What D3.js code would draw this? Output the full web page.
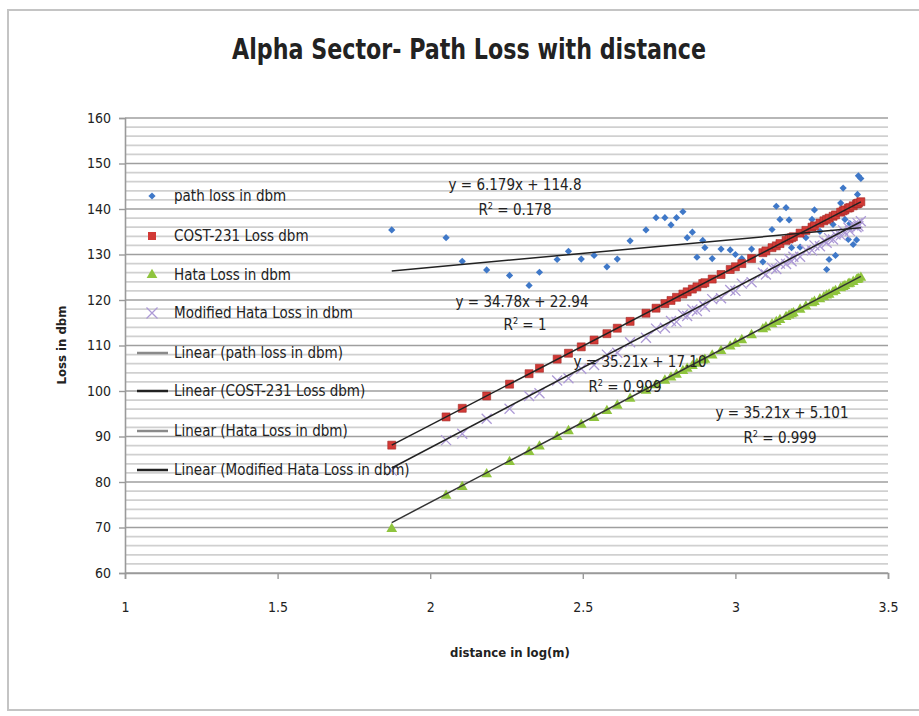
<!DOCTYPE html>
<html><head><meta charset="utf-8">
<script src="https://cdn.jsdelivr.net/npm/d3@7"></script>
<style>
html,body{margin:0;padding:0;background:#fff;}
svg{display:block;}
text{font-family:"DejaVu Sans Condensed","DejaVu Sans",sans-serif;fill:#222;}
</style></head>
<body><svg id="chart" width="919" height="716"></svg>
<script>
// ---------------- DATA ----------------
const distanceLog = [1.874,2.052,2.105,2.185,2.260,2.324,2.358,2.416,2.453,2.495,2.537,2.579,2.613,2.655,2.707,2.740,2.769,2.789,2.807,2.828,2.842,2.859,2.874,2.893,2.900,2.924,2.953,2.983,3.000,3.021,3.053,3.090,3.100,3.120,3.134,3.146,3.166,3.176,3.184,3.190,3.212,3.231,3.251,3.259,3.277,3.290,3.299,3.307,3.320,3.328,3.345,3.353,3.359,3.370,3.375,3.386,3.397,3.400,3.403,3.411];
const pathLoss = [135.4,133.7,128.5,126.6,125.4,123.2,126.1,128.9,130.7,129.0,129.8,127.3,129.0,133.0,135.4,138.1,138.1,136.5,138.1,139.4,133.7,134.9,129.4,133.1,131.5,129.1,131.2,131.0,130.0,129.1,131.2,128.4,130.8,135.5,140.6,137.7,140.3,137.6,131.5,133.9,131.6,133.7,137.7,139.8,135.1,137.4,126.7,128.9,136.6,129.8,141.3,144.6,137.7,133.3,136.8,132.2,133.2,143.2,147.3,146.7];
const cost231Loss = [88.1,94.3,96.2,98.9,101.5,103.8,105.0,107.0,108.3,109.7,111.2,112.6,113.8,115.3,117.1,118.2,119.2,119.9,120.6,121.3,121.8,122.4,122.9,123.6,123.8,124.6,125.6,126.7,127.3,128.0,129.1,130.4,130.8,131.5,131.9,132.4,133.1,133.4,133.7,133.9,134.7,135.3,136.0,136.3,136.9,137.4,137.7,138.0,138.4,138.7,139.3,139.6,139.8,140.2,140.3,140.7,141.1,141.2,141.3,141.6];
const hataLoss = [69.7,77.0,78.9,81.7,84.4,86.6,87.8,89.9,91.2,92.6,94.1,95.6,96.8,98.3,100.1,101.3,102.3,103.0,103.6,104.4,104.9,105.5,106.0,106.7,106.9,107.8,108.8,109.8,110.4,111.2,112.3,113.6,114.0,114.7,115.2,115.6,116.3,116.6,116.9,117.1,117.9,118.6,119.3,119.6,120.2,120.6,121.0,121.2,121.7,122.0,122.6,122.9,123.1,123.5,123.6,124.0,124.4,124.5,124.6,124.9];
const modHataLoss = [82.5,89.2,90.6,93.9,96.1,98.9,99.5,102.3,102.8,104.9,105.7,108.0,108.4,110.7,111.7,113.7,113.9,115.4,115.2,116.8,116.5,117.9,117.6,119.1,118.5,120.2,120.4,122.2,122.0,123.6,123.9,126.0,125.6,127.1,126.8,128.0,127.9,129.0,128.5,129.5,129.5,131.0,130.9,132.0,131.8,133.0,132.6,133.6,133.3,134.4,134.2,135.3,134.7,135.9,135.2,136.4,136.0,136.9,136.2,137.3];

const seriesNames = ["path loss in dbm","COST-231 Loss dbm","Hata Loss in dbm","Modified Hata  Loss in dbm"];
const trendNames = ["Linear (path loss in dbm)","Linear (COST-231 Loss dbm)","Linear (Hata Loss in dbm)","Linear (Modified Hata Loss in dbm)"];
const trendSlopes = [6.179,34.78,35.21,35.21];
const trendIntercepts = [114.8,22.94,5.101,17.10];
const trendEquations = ["y = 6.179x + 114.8","y = 34.78x + 22.94","y = 35.21x + 5.101","y = 35.21x + 17.10"];
const trendR2 = ["0.178","1","0.999","0.999"];
const xTicks = [1,1.5,2,2.5,3,3.5];
const yTicks = [60,70,80,90,100,110,120,130,140,150,160];

// ---------------- LAYOUT ----------------
const svg = d3.select("#chart");
const L = 125, R = 888, T = 118, B = 573;
const x = d3.scaleLinear().domain([1,3.5]).range([L,R]);
const y = d3.scaleLinear().domain([60,160]).range([B,T]);
const FONT = '"DejaVu Sans Condensed","DejaVu Sans",sans-serif';

svg.append("rect").attr("x",8).attr("y",10).attr("width",925).attr("height",700)
  .attr("fill","#fff").attr("stroke","#c4c4c4").attr("stroke-width",2);

const minor = d3.range(62,160,2).filter(v=>v%10!==0);
svg.append("g").selectAll("line").data(minor).join("line")
  .attr("x1",L).attr("x2",R).attr("y1",d=>y(d)).attr("y2",d=>y(d))
  .attr("stroke","#d0d0d0").attr("stroke-width",1.7);
svg.append("g").selectAll("line").data(yTicks).join("line")
  .attr("x1",L).attr("x2",R).attr("y1",d=>y(d)).attr("y2",d=>y(d))
  .attr("stroke","#9f9f9f").attr("stroke-width",1.7);

const yAxis = svg.append("g").attr("transform",`translate(${L},0)`)
  .call(d3.axisLeft(y).tickValues(yTicks).tickSize(6).tickPadding(8));
yAxis.select(".domain").attr("stroke","#9a9a9a").attr("stroke-width",1.6);
yAxis.selectAll(".tick line").attr("stroke","#9a9a9a").attr("stroke-width",1.4);
yAxis.selectAll("text").style("font-size","14px").style("font-family",FONT).attr("fill","#333");

const xAxis = svg.append("g").attr("transform",`translate(0,${B})`)
  .call(d3.axisBottom(x).tickValues(xTicks).tickFormat(d3.format("")).tickSize(6).tickPadding(23));
xAxis.select(".domain").attr("stroke","#9a9a9a").attr("stroke-width",1.6);
xAxis.selectAll(".tick line").attr("stroke","#9a9a9a").attr("stroke-width",1.4);
xAxis.selectAll("text").style("font-size","14px").style("font-family",FONT).attr("fill","#333");

svg.append("text").attr("x",469).attr("y",59).attr("text-anchor","middle")
  .attr("textLength",474).attr("lengthAdjust","spacingAndGlyphs")
  .style("font-size","28px").style("font-weight","bold").text("Alpha Sector- Path Loss with distance");
svg.append("text").attr("transform","translate(66,345) rotate(-90)").attr("text-anchor","middle")
  .style("font-size","13px").style("font-weight","bold").text("Loss in dbm");
svg.append("text").attr("x",510).attr("y",657).attr("text-anchor","middle")
  .style("font-size","13px").style("font-weight","bold").text("distance in log(m)");

const pts = distanceLog.map((d,i)=>({d,p:pathLoss[i],c:cost231Loss[i],h:hataLoss[i],m:modHataLoss[i]}));
const diamondPath = "M0,-3.6L3.6,0L0,3.6L-3.6,0Z";
const square = d3.symbol().type(d3.symbolSquare).size(64);
const tri = d3.symbol().type(d3.symbolTriangle).size(50);
function xPath(s){return `M${-s},${-s}L${s},${s}M${-s},${s}L${s},${-s}`;}

svg.append("g").selectAll("path").data(pts).join("path")
  .attr("transform",d=>`translate(${x(d.d)},${y(d.p)})`).attr("d",diamondPath).attr("fill","#3f78c8");
svg.append("g").selectAll("path").data(pts).join("path")
  .attr("transform",d=>`translate(${x(d.d)},${y(d.c)})`).attr("d",square).attr("fill","#d23a36").attr("stroke","#a52a27").attr("stroke-width",0.6);
svg.append("g").selectAll("path").data(pts).join("path")
  .attr("transform",d=>`translate(${x(d.d)},${y(d.h)})`).attr("d",tri).attr("fill","#8fc43e");
svg.append("g").selectAll("path").data(pts).join("path")
  .attr("transform",d=>`translate(${x(d.d)},${y(d.m)})`).attr("d",xPath(5)).attr("fill","none").attr("stroke","#ad9ad6").attr("stroke-width",1.3);

const xExt = d3.extent(distanceLog);
const trendColors = ["#222","#222","#333","#222"];
trendSlopes.forEach((s,i)=>{
  const line = d3.line().x(d=>x(d)).y(d=>y(s*d+trendIntercepts[i]));
  svg.append("path").datum(xExt).attr("d",line).attr("fill","none")
    .attr("stroke",trendColors[i]).attr("stroke-width",1.5);
});

const labelPos = [[515,190,515,215],[522,307,525,330],[782,418,780,443],[640,367,625,392]];
trendEquations.forEach((eq,i)=>{
  const [ex,ey,rx,ry] = labelPos[i];
  svg.append("text").attr("x",ex).attr("y",ey).attr("text-anchor","middle").style("font-size","15px").text(eq);
  const t = svg.append("text").attr("x",rx).attr("y",ry).attr("text-anchor","middle").style("font-size","15px");
  t.append("tspan").text("R");
  t.append("tspan").attr("dy",-6).style("font-size","9px").text("2");
  t.append("tspan").attr("dy",6).text(" = "+trendR2[i]);
});

const lg = svg.append("g");
const legY = [196,236,275,313,353,391,431,470];
const items = seriesNames.concat(trendNames);
items.forEach((name,i)=>{
  const cy = legY[i];
  if(i===0) lg.append("path").attr("transform",`translate(152,${cy})`).attr("d",diamondPath).attr("fill","#3f78c8");
  if(i===1) lg.append("path").attr("transform",`translate(152,${cy})`).attr("d",square).attr("fill","#d23a36");
  if(i===2) lg.append("path").attr("transform",`translate(152,${cy})`).attr("d",tri).attr("fill","#8fc43e");
  if(i===3) lg.append("path").attr("transform",`translate(152,${cy})`).attr("d",xPath(5.5)).attr("stroke","#ad9ad6").attr("stroke-width",1.3).attr("fill","none");
  if(i>=4) lg.append("line").attr("x1",137).attr("x2",168).attr("y1",cy).attr("y2",cy)
    .attr("stroke", (i%2===0)?"#8a8a8a":"#222").attr("stroke-width",2.5);
  lg.append("text").attr("x",174).attr("y",cy+5).style("font-size","15px").text(name);
});
</script></body></html>
